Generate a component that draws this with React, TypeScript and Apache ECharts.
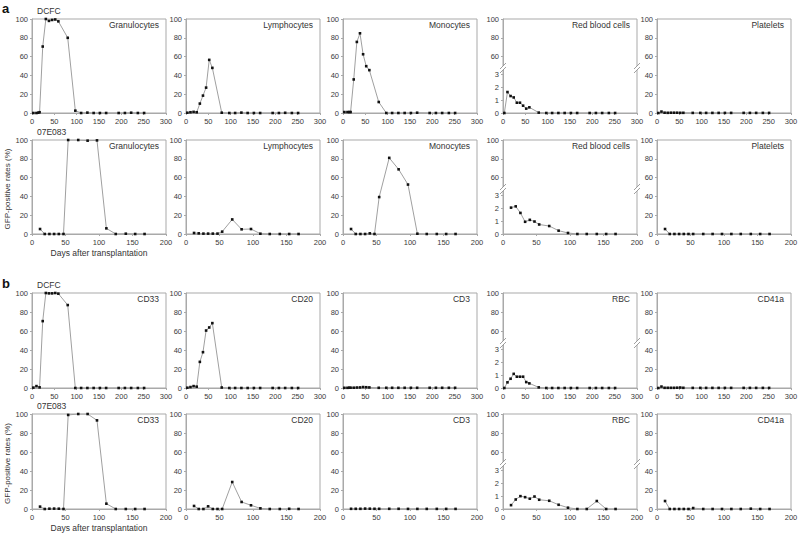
import React, { useEffect, useRef } from "react";
import * as echarts from "echarts";

// ---------- data ----------
const daysDCFC = [3, 10, 14, 17, 24, 31, 38, 45, 52, 59, 80, 97, 110, 124, 138, 152, 166, 194, 208, 222, 237, 251];
const days07E083 = [12, 19, 26, 33, 40, 47, 54, 69, 83, 97, 111, 125, 140, 154, 168];

const dcfcGranulocytes = [0, 0, 0.3, 0.8, 70.7, 100, 98, 99, 99.5, 97.5, 80, 2.5, 0, 0.4, 0, 0, 0, 0, 0, 0.3, 0, 0];
const dcfcLymphocytes = [0.3, 0.8, null, 1.2, 0.8, 10, 18.5, 27, 56.5, 48, 0.3, 0, 0, 0.4, 0, 0, 0, 0, 0, 0.2, 0, 0];
const dcfcMonocytes = [1, 1, 1, 1, 35.7, 75.6, 84.8, 62.5, 49.8, 45.6, 11.7, 0, 0, 0, 0, 0, 0.3, 0, 0, 0, 0, 0];
const dcfcRedBloodCells = [0, 1.63, null, 1.32, 1.21, 0.8, 0.8, 0.57, 0.34, 0.44, 0.03, 0, 0, 0, 0, 0, 0, 0, 0, 0, 0, 0];
const dcfcPlatelets = [0, 1.5, null, 0.3, 0.2, 0.3, 0.3, 0.3, 0.2, 0.2, 0.1, 0.1, 0.1, 0.1, 0.1, 0.1, 0.1, 0.1, 0.1, 0.1, 0.1, 0.1];

const e083Granulocytes = [5.3, 0, 0, 0, 0, 0, 100, 100, 99.3, 99.6, 6, 0, 0.3, 0, 0];
const e083Lymphocytes = [1.1, 0.7, 0.4, 0.4, 0.4, 0.4, 2.5, 15.5, 5, 5.3, 0.3, 0, 0, 0, 0];
const e083Monocytes = [5.3, 0, 0, 0, 0.7, 0, 39.3, 81, 68.8, 52.6, 0.3, 0, 0, 0, 0];
const e083RedBloodCells = [2.05, 2.15, 1.64, 0.95, 1.1, 0.97, 0.74, 0.62, 0.26, 0.08, 0, 0, 0, 0, 0];
const e083Platelets = [5.3, 0, 0, 0, 0, 0, 0, 0, 0, 0, 0, 0, 0, 0, 0];

const dcfcCD33 = [0.4, 2, null, 0.7, 70.4, 100, 99.6, 99.6, 100, 99.3, 87.3, 0, 0, 0, 0, 0, 0, 0, 0, 0, 0, 0];
const dcfcCD20 = [0.3, 1, null, 2, 1.4, 27.5, 37.7, 60.5, 63.7, 68.3, 0.5, 0, 0, 0, 0, 0, 0, 0, 0, 0, 0, 0];
const dcfcCD3 = [0.2, 0.2, 0.3, 0.3, 0.3, 0.5, 0.6, 1, 0.8, 0.6, 0.2, 0.2, 0.2, 0.2, 0.2, 0.2, 0.2, 0.2, 0.2, 0.2, 0.2, 0.2];
const dcfcRBC = [0, 0.44, null, 0.72, 1.1, 0.88, 0.88, 0.88, 0.46, 0.36, 0.05, 0, 0, 0, 0, 0, 0, 0, 0, 0, 0, 0];
const dcfcCD41a = [0, 1.5, null, 0.2, 0.2, 0.2, 0.2, 0.3, 0.5, 0.2, 0.1, 0.1, 0.1, 0.1, 0.1, 0.1, 0.1, 0.1, 0.1, 0.1, 0.1, 0.1];

const e083CD33 = [2.5, 0, 0.3, 0.4, 0.3, 0, 99, 100, 100, 93.3, 5.6, 0, 0, 0, 0];
const e083CD20 = [3.2, 0, 0, 2.8, 0, 0, 0, 28.4, 7.4, 3.9, 0.7, 0, 0, 0.2, 0];
const e083CD3 = [0.2, 0.2, 0.2, 0.4, 0.3, 0.2, 0.2, 0.2, 0.2, 0.1, 0.1, 0.1, 0.1, 0.1, 0.1];
const e083RBC = [0.3, 0.74, 1.0, 0.92, 0.8, 0.97, 0.72, 0.64, 0.33, 0.1, 0, 0, 0.62, 0, 0];
const e083CD41a = [8.4, 0, 0, 0, 0, 0, 1, 0, 0, 0, 0, 0, 0.3, 0, 0];

const titlesA = ["Granulocytes", "Lymphocytes", "Monocytes", "Red blood cells", "Platelets"];
const titlesB = ["CD33", "CD20", "CD3", "RBC", "CD41a"];
const animals = ["DCFC", "07E083", "DCFC", "07E083"];
const xMaxDCFC = 300;
const xMax07E083 = 200;
const xTickStep = 50;
const yTickStep = 20;
const rbcLowTicks = [0, 1, 2, 3];
const rbcHighTicks = [60, 80, 100];
const yAxisName = "GFP-positive rates (%)";
const xAxisName = "Days after transplantation";

// ---------- layout ----------
const colLeft = [32, 186, 343, 503, 657];
const colW = 134;
const rowTop = [19, 140, 293, 414];
const rowH = [94, 94, 95, 95];
const lowH = 45;

const FONT = "'Liberation Sans', Arial, sans-serif";
const AXIS = "#a9a9a9";
const LABEL = "#3a3a3a";
const LINE = "#a0a0a0";
const DOT = "#111";

const rows = [
  { days: daysDCFC, xMax: xMaxDCFC, titles: titlesA, values: [dcfcGranulocytes, dcfcLymphocytes, dcfcMonocytes, dcfcRedBloodCells, dcfcPlatelets] },
  { days: days07E083, xMax: xMax07E083, titles: titlesA, values: [e083Granulocytes, e083Lymphocytes, e083Monocytes, e083RedBloodCells, e083Platelets] },
  { days: daysDCFC, xMax: xMaxDCFC, titles: titlesB, values: [dcfcCD33, dcfcCD20, dcfcCD3, dcfcRBC, dcfcCD41a] },
  { days: days07E083, xMax: xMax07E083, titles: titlesB, values: [e083CD33, e083CD20, e083CD3, e083RBC, e083CD41a] },
];

function buildOption() {
  const grid: any[] = [];
  const xAxis: any[] = [];
  const yAxis: any[] = [];
  const series: any[] = [];
  const graphic: any[] = [];

  const labelStyle = { fontSize: 7.5, color: LABEL, fontFamily: FONT };
  const axisLine = { show: true, lineStyle: { color: AXIS, width: 1 } };
  const axisTick = { show: true, length: 2, lineStyle: { color: AXIS } };

  const makeX = (gi: number, xMax: number, show: boolean) => ({
    gridIndex: gi, type: "value", min: 0, max: xMax, interval: xTickStep, show,
    axisLine, axisTick, splitLine: { show: false },
    axisLabel: { ...labelStyle, margin: 4, showMinLabel: true, showMaxLabel: true },
  });

  rows.forEach((row, r) => {
    row.values.forEach((vals, c) => {
      const left = colLeft[c];
      const top = rowTop[r];
      const h = rowH[r];
      const data = row.days
        .map((d, i) => [d, vals[i]])
        .filter((p) => p[1] !== null && p[1] !== undefined);
      let dataGrid: number;
      if (c === 3) {
        const gi = grid.length;
        grid.push({ left, top, width: colW, height: h, show: true, borderColor: AXIS, borderWidth: 1, outerBoundsMode: "none" });
        xAxis.push(makeX(gi, row.xMax, false));
        yAxis.push({
          gridIndex: gi, type: "value", min: 0, max: 100, interval: yTickStep,
          axisLine, splitLine: { show: false },
          axisTick: { ...axisTick, customValues: rbcHighTicks },
          axisLabel: { ...labelStyle, margin: 4, formatter: (v: number) => (rbcHighTicks.includes(v) ? String(v) : "") },
        });
        dataGrid = grid.length;
        grid.push({ left, top: top + h - lowH, width: colW, height: lowH, show: false, outerBoundsMode: "none" });
        xAxis.push(makeX(dataGrid, row.xMax, true));
        yAxis.push({
          gridIndex: dataGrid, type: "value", min: 0, max: 3.5, interval: 1,
          axisLine, splitLine: { show: false },
          axisTick: { ...axisTick, customValues: rbcLowTicks },
          axisLabel: { ...labelStyle, margin: 4, showMaxLabel: false, formatter: (v: number) => (rbcLowTicks.includes(v) ? String(v) : "") },
        });
        const cy = top + h - lowH;
        [left, left + colW].forEach((cx) => {
          graphic.push({
            type: "polygon", z: 100, silent: true,
            shape: { points: [[cx - 3, cy + 1], [cx + 3, cy - 5], [cx + 3, cy - 1], [cx - 3, cy + 5]] },
            style: { fill: "#fff", stroke: null },
          });
          graphic.push({ type: "line", z: 101, silent: true, shape: { x1: cx - 3, y1: cy + 1, x2: cx + 3, y2: cy - 5 }, style: { stroke: "#888", lineWidth: 0.8 } });
          graphic.push({ type: "line", z: 101, silent: true, shape: { x1: cx - 3, y1: cy + 5, x2: cx + 3, y2: cy - 1 }, style: { stroke: "#888", lineWidth: 0.8 } });
        });
      } else {
        dataGrid = grid.length;
        grid.push({ left, top, width: colW, height: h, show: true, borderColor: AXIS, borderWidth: 1, outerBoundsMode: "none" });
        xAxis.push(makeX(dataGrid, row.xMax, true));
        yAxis.push({
          gridIndex: dataGrid, type: "value", min: 0, max: 100, interval: yTickStep,
          axisLine, axisTick, splitLine: { show: false },
          axisLabel: { ...labelStyle, margin: 4, showMinLabel: true, showMaxLabel: true },
        });
      }
      series.push({
        type: "line", xAxisIndex: dataGrid, yAxisIndex: dataGrid, data,
        symbol: "rect", symbolSize: 2.6, showSymbol: true,
        lineStyle: { color: LINE, width: 1 },
        itemStyle: { color: DOT },
        emphasis: { disabled: true },
      });
      graphic.push({
        type: "text", x: left + colW - 7, y: top + 6, z: 100, silent: true,
        style: { text: row.titles[c], fontSize: 8.5, fontFamily: FONT, fill: "#333", align: "right", verticalAlign: "middle" },
      });
    });
    graphic.push({
      type: "text", x: 37, y: rowTop[r] - 8, z: 100, silent: true,
      style: { text: animals[r], fontSize: 8.5, fontFamily: FONT, fill: "#333", align: "left", verticalAlign: "middle" },
    });
  });

  graphic.push({ type: "text", x: 2, y: 8, style: { text: "a", fontSize: 13, fontWeight: "bold", fontFamily: FONT, fill: "#111", align: "left", verticalAlign: "middle" } });
  graphic.push({ type: "text", x: 2, y: 283, style: { text: "b", fontSize: 13, fontWeight: "bold", fontFamily: FONT, fill: "#111", align: "left", verticalAlign: "middle" } });

  [1, 3].forEach((r) => {
    graphic.push({
      type: "text", x: 7, y: rowTop[r] + rowH[r] / 2 + 2, rotation: Math.PI / 2,
      style: { text: yAxisName, fontSize: 8, fontFamily: FONT, fill: "#333", align: "center", verticalAlign: "middle" },
    });
    graphic.push({
      type: "text", x: colLeft[0] + colW / 2, y: rowTop[r] + rowH[r] + 19,
      style: { text: xAxisName, fontSize: 8.5, fontFamily: FONT, fill: "#333", align: "center", verticalAlign: "middle" },
    });
  });

  return { animation: false, backgroundColor: "#fff", grid, xAxis, yAxis, series, graphic };
}

export default function App() {
  const ref = useRef<HTMLDivElement>(null);
  useEffect(() => {
    if (!ref.current) return;
    const chart = echarts.init(ref.current, null, { renderer: "svg" });
    chart.setOption(buildOption() as any);
    return () => chart.dispose();
  }, []);
  return <div ref={ref} style={{ position: "absolute", left: 0, top: 0, width: 800, height: 534 }} />;
}
